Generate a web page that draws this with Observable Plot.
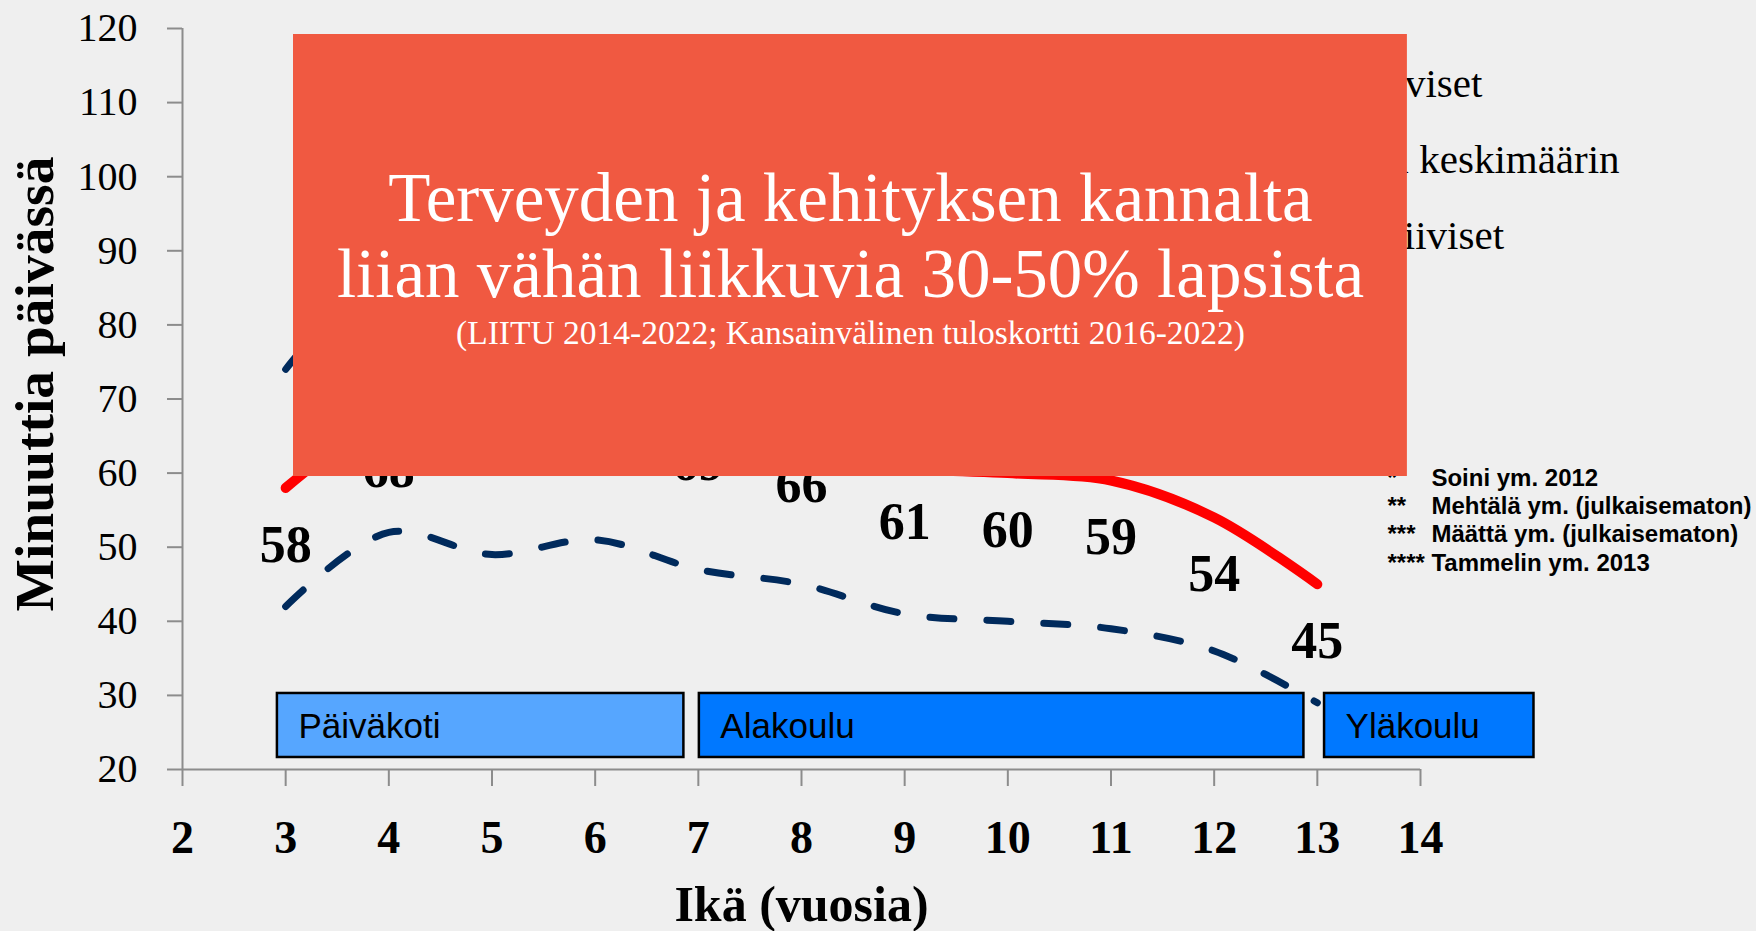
<!DOCTYPE html>
<html>
<head>
<meta charset="utf-8">
<script src="https://cdn.jsdelivr.net/npm/d3@7"></script>
<script src="https://cdn.jsdelivr.net/npm/@observablehq/plot@0.6"></script>
<style>
  html, body { margin: 0; padding: 0; background: #EFEFEF; }
  #chart svg { display: block; }
</style>
</head>
<body>
<div id="chart"></div>
<script>
// ---- Data ----
const ages = [3, 4, 5, 6, 7, 8, 9, 10, 11, 12, 13];
const average = [58, 68, 72, 71, 69, 66, 61, 60, 59, 54, 45];      // red solid line (labelled)
const active = [74, 87, 85, 88, 86, 84, 80, 79, 76, 70, 62];       // upper dashed line (mostly hidden)
const inactive = [42, 52, 49, 51, 47, 45, 41, 40, 39, 36, 29];     // lower dashed line

const xTicks = [2, 3, 4, 5, 6, 7, 8, 9, 10, 11, 12, 13, 14];
const yTicks = [20, 30, 40, 50, 60, 70, 80, 90, 100, 110, 120];

const stageNames = ["Päiväkoti", "Alakoulu", "Yläkoulu"];
const stageStart = [2.92, 7.01, 13.07];
const stageEnd = [6.86, 12.87, 15.1];

const legendNames = ["Aktiiviset", "Kaikki keskimäärin", "Inaktiiviset"];
const footStars = ["*", "**", "***", "****"];
const footNames = ["Soini ym. 2012", "Mehtälä ym. (julkaisematon)", "Määttä ym. (julkaisematon)", "Tammelin ym. 2013"];

const titleLines = ["Terveyden ja kehityksen kannalta", "liian vähän liikkuvia 30-50% lapsista"];
const subtitle = "(LIITU 2014-2022; Kansainvälinen tuloskortti 2016-2022)";
const xLabel = "Ikä (vuosia)";
const yLabel = "Minuuttia päivässä";

// ---- Tables ----
const rows = ages.map((a, i) => ({age: a, average: average[i], active: active[i], inactive: inactive[i]}));
const stages = stageNames.map((n, i) => ({name: n, x1: stageStart[i], x2: stageEnd[i]}));
const legend = legendNames.map((n, i) => ({name: n, i}));
const foot = footNames.map((n, i) => ({name: n, star: footStars[i], i}));

const serif = '"Liberation Serif", "Times New Roman", serif';
const sans = '"Liberation Sans", Arial, sans-serif';
const axisGray = "#8c8c8c";
const navy = "#002A5C";

const chart = Plot.plot({
  width: 1756,
  height: 931,
  marginLeft: 182,
  marginRight: 336,
  marginTop: 28,
  marginBottom: 162,
  x: {domain: [2, 14]},
  y: {domain: [20, 120]},
  color: {domain: stageNames, range: ["#56A6FF", "#0078FF", "#0078FF"]},
  style: {background: "#EFEFEF", overflow: "visible"},
  marks: [
    // axes
    Plot.ruleX([2], {y1: 20, y2: 120, stroke: axisGray, strokeWidth: 2}),
    Plot.ruleY([20], {x1: 2, x2: 14, stroke: axisGray, strokeWidth: 2}),
    Plot.axisY({ticks: yTicks, tickSize: 15, tickPadding: 30, stroke: axisGray, strokeWidth: 2,
      fill: "#000", fontSize: 40, fontFamily: serif, label: null}),
    Plot.axisX({ticks: xTicks, tickSize: 17, tickPadding: 34, stroke: axisGray, strokeWidth: 2,
      fill: "#000", fontSize: 46, fontWeight: "bold", fontFamily: serif, label: null}),
    Plot.text([yLabel], {text: d => d, frameAnchor: "left", textAnchor: "middle", lineAnchor: "middle",
      dx: -147, dy: -15, rotate: -90, fontSize: 55.5, fontWeight: "bold", fontFamily: serif, fill: "#000"}),
    Plot.text([xLabel], {text: d => d, frameAnchor: "bottom", textAnchor: "middle", lineAnchor: "bottom",
      dy: 151, fontSize: 50, fontWeight: "bold", fontFamily: serif, fill: "#000"}),

    // legend (partly hidden behind the red banner)
    Plot.text(legend, {text: "name", x: d => [14.60, 15.93, 14.81][d.i], y: d => 112.46 - d.i * 10.19,
      textAnchor: "end", fontSize: 41, fontFamily: serif, fill: "#000"}),

    // school stage boxes
    Plot.rect(stages, {x1: "x1", x2: "x2", y1: 21.62, y2: 30.26, fill: "name", stroke: "#000", strokeWidth: 2.5}),
    Plot.text(stages, {text: "name", x: "x1", y: 25.8, dx: 21, textAnchor: "start",
      fontSize: 35, fontFamily: sans, fill: "#000"}),

    // lines
    Plot.line(rows, {x: "age", y: "active", curve: "catmull-rom", stroke: navy, strokeWidth: 7,
      strokeDasharray: "24,33", strokeLinecap: "round"}),
    Plot.line(rows, {x: "age", y: "inactive", curve: "catmull-rom", stroke: navy, strokeWidth: 7,
      strokeDasharray: "24,33", strokeLinecap: "round"}),
    Plot.line(rows, {x: "age", y: "average", curve: "catmull-rom", stroke: "#FF0000", strokeWidth: 10,
      strokeLinecap: "round", strokeLinejoin: "round"}),
    Plot.text(rows, {x: "age", y: "average", text: d => String(d.average), dy: 57,
      fontSize: 52, fontWeight: "bold", fontFamily: serif, fill: "#000"}),

    // footnotes
    Plot.text(foot, {text: "star", x: 13.68, y: d => 59.34 - d.i * 3.82, textAnchor: "start",
      fontSize: 24, fontWeight: "bold", fontFamily: sans, fill: "#000"}),
    Plot.text(foot, {text: "name", x: 14.106, y: d => 59.34 - d.i * 3.82, textAnchor: "start",
      fontSize: 24, fontWeight: "bold", fontFamily: sans, fill: "#000"}),

    // red banner
    Plot.rect([0], {x1: 3.076, x2: 13.873, y1: 59.54, y2: 119.19, fill: "#F05941"}),
    Plot.text(titleLines, {text: d => d, x: 8.475, y: (d, i) => [97.06, 86.8][i],
      fontSize: 69, fontFamily: serif, fill: "#fff"}),
    Plot.text([subtitle], {text: d => d, x: 8.475, y: 78.93,
      fontSize: 33.5, fontFamily: serif, fill: "#fff"})
  ]
});

document.getElementById("chart").appendChild(chart);
</script>
</body>
</html>
